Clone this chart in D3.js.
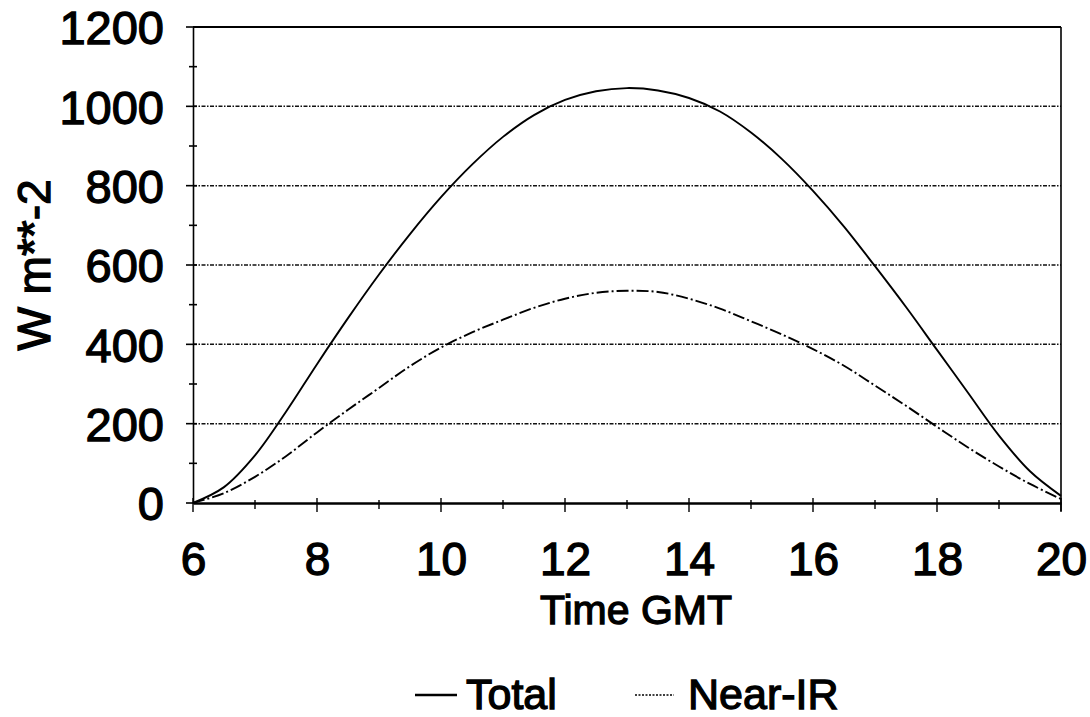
<!DOCTYPE html>
<html><head><meta charset="utf-8">
<script src="https://cdn.jsdelivr.net/npm/d3@7"></script>
<style>body{margin:0;background:#fff}text{font-family:"Liberation Sans",Arial,sans-serif;fill:#000;stroke:#000;stroke-width:1.3px;font-weight:normal}</style>
</head><body><svg id="c" width="1090" height="717"></svg>
<script>
const hours = [6,6.5,7,7.5,8,8.5,9,9.5,10,10.5,11,11.5,12,12.5,13,13.5,14,14.5,15,15.5,16,16.5,17,17.5,18,18.5,19,19.5,20];
const total = [0,40,120,230,350,466,576,678,771,853,923,978,1016,1038,1046,1040,1021,987,934,867,787,697,597,494,386,278,170,80,18];
const nearIR = [0,25,66,118,178,235,290,345,392,430,462,492,515,530,535,532,515,490,458,425,388,346,296,245,192,140,92,48,10];
const xTicks = [6,8,10,12,14,16,18,20];
const yTicks = [0,200,400,600,800,1000,1200];
const seriesNames = ["Total","Near-IR"];

const svg = d3.select("#c");
const L=193, R=1061, T=27, B=503;
const x = d3.scaleLinear().domain([6,20]).range([L,R]);
const y = d3.scaleLinear().domain([0,1200]).range([B,T]);

// gridlines
svg.append("g").selectAll("line").data(yTicks.filter(v=>v>0 && v<1200)).join("line")
  .attr("x1",L).attr("x2",R).attr("y1",d=>y(d)).attr("y2",d=>y(d))
  .attr("stroke","#111").attr("stroke-width",1.5).attr("stroke-dasharray","4,1.5,1.5,1.5");

// frame
svg.append("line").attr("x1",L).attr("x2",R).attr("y1",T).attr("y2",T).attr("stroke","#000").attr("stroke-width",2.2);
svg.append("line").attr("x1",R).attr("x2",R).attr("y1",T).attr("y2",B+8).attr("stroke","#000").attr("stroke-width",1.6);

// x axis
const xa = svg.append("g").attr("transform",`translate(0,${B})`)
  .call(d3.axisBottom(x).tickValues(xTicks).tickSize(0).tickPadding(39).tickFormat(d3.format("d")));
xa.select(".domain").attr("stroke","#000").attr("stroke-width",2.6);
xa.selectAll("text").attr("font-size",46).attr("dy","0.71em").attr("fill","#000");
const xMinor = d3.range(6,20.01,1);
svg.append("g").selectAll("line").data(xMinor).join("line")
  .attr("x1",d=>x(d)).attr("x2",d=>x(d))
  .attr("y1",d=>B-(d%2===0?5:3)).attr("y2",d=>B+(d%2===0?9:6))
  .attr("stroke","#000").attr("stroke-width",1.4);

// y axis
const ya = svg.append("g").attr("transform",`translate(${L},0)`)
  .call(d3.axisLeft(y).tickValues(yTicks).tickSize(0).tickPadding(29).tickFormat(d3.format("d")));
ya.select(".domain").attr("stroke","#000").attr("stroke-width",1.6);
ya.selectAll("text").attr("font-size",47).attr("dy","0.36em").attr("fill","#000");
const yMinor = d3.range(0,1201,100);
svg.append("g").selectAll("line").data(yMinor).join("line")
  .attr("x1",d=>L-(d%200===0?7:4)).attr("x2",L+4)
  .attr("y1",d=>y(d)).attr("y2",d=>y(d))
  .attr("stroke","#000").attr("stroke-width",1.6);

// lines
const line = d3.line().x((d,i)=>x(hours[i])).y(d=>y(d)).curve(d3.curveCatmullRom);
svg.append("path").datum(total).attr("d",line).attr("fill","none").attr("stroke","#000").attr("stroke-width",1.9);
svg.append("path").datum(nearIR).attr("d",line).attr("fill","none").attr("stroke","#000").attr("stroke-width",1.9)
  .attr("stroke-dasharray","12,3,2,3");

// axis titles
svg.append("text").attr("x",636).attr("y",624).attr("text-anchor","middle").attr("font-size",41).text("Time GMT");
svg.append("text").attr("transform","translate(50,265) rotate(-90)").attr("text-anchor","middle").attr("font-size",46).text("W m**-2");

// legend
const lg = svg.append("g");
lg.append("line").attr("x1",415).attr("x2",457).attr("y1",695).attr("y2",695).attr("stroke","#000").attr("stroke-width",2.4);
lg.append("text").attr("x",466).attr("y",709).attr("font-size",43).text(seriesNames[0]);
lg.append("line").attr("x1",635).attr("x2",674).attr("y1",695).attr("y2",695).attr("stroke","#000").attr("stroke-width",1.6).attr("stroke-dasharray","2,1.5");
lg.append("text").attr("x",688).attr("y",709).attr("font-size",43).text(seriesNames[1]);
</script></body></html>
